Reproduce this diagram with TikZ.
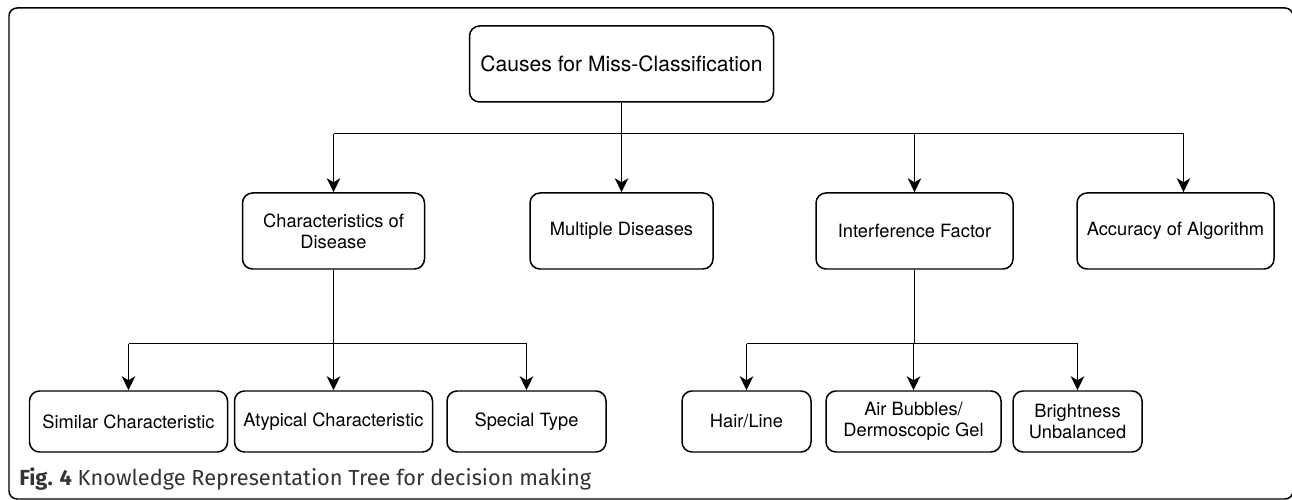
\documentclass[tikz,border=0pt]{standalone}
\usepackage{fontspec}
\setmainfont{TeX Gyre Heros}
\newfontfamily\captionfont{Fira Sans}
\usetikzlibrary{arrows.meta,positioning}

\begin{document}
\begin{tikzpicture}[
    box/.style={rectangle, draw, line width=0.85pt, rounded corners=0.2cm, align=center,
        minimum width=#1, minimum height=1.52cm, inner sep=1pt, font=\fontsize{10.4}{12}\selectfont},
    box/.default=3.6cm,
    leaf/.style={box=#1, minimum height=1.22cm},
    leaf/.default=3.6cm,
    wire/.style={line width=0.85pt},
    arr/.style={wire, -{Stealth[length=0.28cm, width=0.27cm, inset=0.08cm]}}
]
\useasboundingbox (0,0) rectangle (25.84,-10);

% outer frame
\draw[wire, rounded corners=0.16cm] (0.18,-0.16) rectangle (25.86,-9.98);

% Root
\node[box=6.08cm, font=\fontsize{12}{14}\selectfont] (root) at (12.43,-1.28)
    {Causes for Miss-Classification};

% Level 1
\node[box=3.64cm] (disease) at (6.67,-4.62) {Characteristics of\\Disease};
\node[box=3.66cm] (multiple) at (12.43,-4.62) {Multiple Diseases};
\node[box=3.94cm] (interf) at (18.29,-4.62) {Interference Factor};
\node[box=3.94cm] (accuracy) at (23.51,-4.62) {Accuracy of Algorithm};

% Level 2
\node[leaf=3.96cm] (similar) at (2.57,-8.43) {Similar Characteristic};
\node[leaf=3.96cm] (atypical) at (6.67,-8.43) {Atypical Characteristic};
\node[leaf=3.18cm] (special) at (10.53,-8.43) {Special Type};
\node[leaf=2.58cm] (hair) at (14.93,-8.43) {Hair/Line};
\node[leaf=3.50cm] (bubbles) at (18.27,-8.43) {Air Bubbles/\\Dermoscopic Gel};
\node[leaf=2.58cm] (bright) at (21.55,-8.43) {Brightness\\Unbalanced};

% -- Arrows: root to level 1 --
\draw[wire] (root.south) -- ++(0,-0.62) coordinate (topbus);
\coordinate (accin) at ([xshift=0.16cm]accuracy.north);
\draw[wire] (disease.north |- topbus) -- (accin |- topbus);
\draw[arr] (disease.north |- topbus) -- (disease.north);
\draw[arr] (topbus) -- (multiple.north);
\draw[arr] (interf.north |- topbus) -- (interf.north);
\draw[arr] (accin |- topbus) -- (accin);

% -- Arrows: level 1 to level 2 --
\draw[wire] (disease.south) -- ++(0,-1.48) coordinate (leftbus);
\draw[wire] (similar.north |- leftbus) -- (special.north |- leftbus);
\draw[arr] (similar.north |- leftbus) -- (similar.north);
\draw[arr] (leftbus) -- (atypical.north);
\draw[arr] (special.north |- leftbus) -- (special.north);

\draw[wire] (interf.south) -- ++(0,-1.48) coordinate (rightbus);
\draw[wire] (hair.north |- rightbus) -- (bright.north |- rightbus);
\draw[arr] (hair.north |- rightbus) -- (hair.north);
\draw[arr] (bubbles.north |- rightbus) -- (bubbles.north);
\draw[arr] (bright.north |- rightbus) -- (bright.north);

% caption
\node[anchor=base west, inner sep=0pt, text=black!80, font=\captionfont\fontsize{12.4}{14}\selectfont] (caption) at (0.38,-9.70)
    {\textbf{Fig. 4} Knowledge Representation Tree for decision making};

\end{tikzpicture}
\end{document}
